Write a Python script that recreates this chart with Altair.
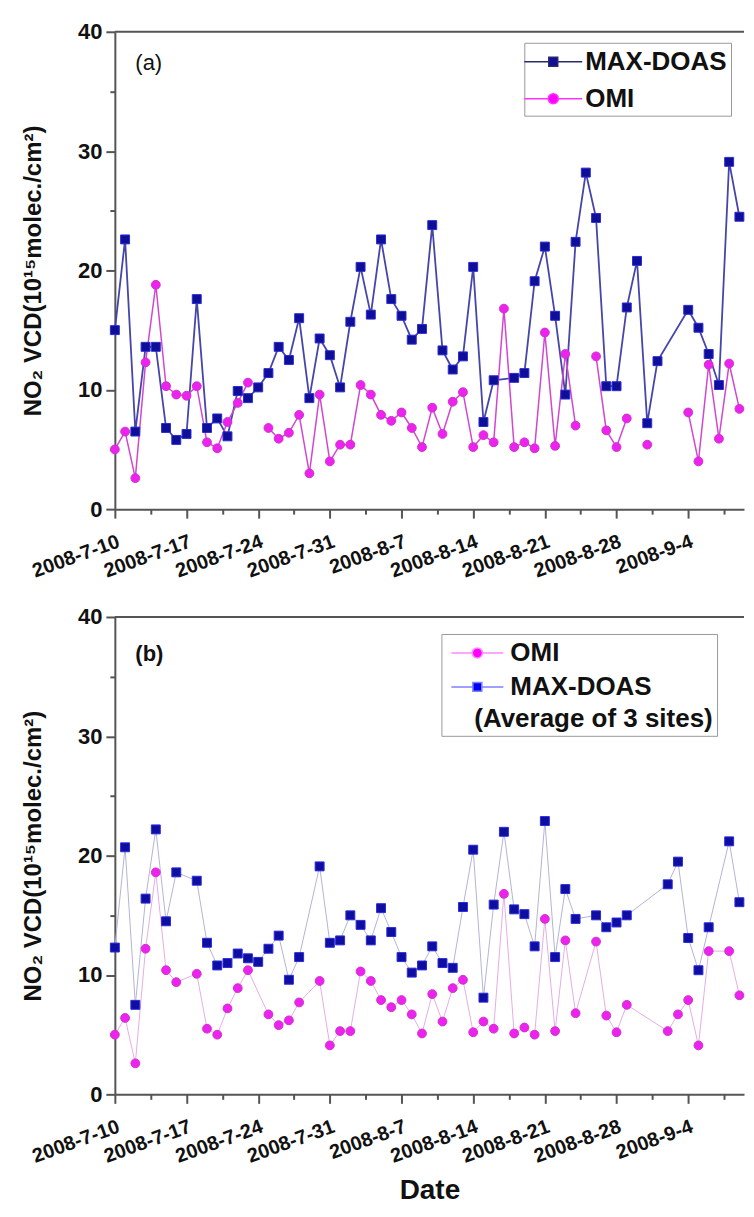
import json
import altair as alt
import pandas as pd

# ---------------- data ----------------
# Panel (a): MAX-DOAS
A_MAX_DATES = ["7-10","7-11","7-12","7-13","7-14","7-15","7-16","7-17","7-18","7-19","7-20","7-21",
               "7-22","7-23","7-24","7-25","7-26","7-27","7-28","7-29","7-30","7-31",
               "8-1","8-2","8-3","8-4","8-5","8-6","8-7","8-8","8-9","8-10","8-11","8-12","8-13",
               "8-14","8-15","8-16","8-18","8-19","8-20","8-21","8-22","8-23","8-24","8-25","8-26",
               "8-27","8-28","8-29","8-30","8-31","9-1","9-4","9-5","9-6","9-7","9-8","9-9"]
A_MAX_VALUES = [15.0, 22.6, 6.5, 13.6, 13.6, 6.8, 5.8, 6.3, 17.6, 6.8, 7.6, 6.1,
                9.9, 9.3, 10.2, 11.4, 13.6, 12.5, 16.0, 9.3, 14.3, 12.9,
                10.2, 15.7, 20.3, 16.3, 22.6, 17.6, 16.2, 14.2, 15.1, 23.8, 13.3, 11.7, 12.8,
                20.3, 7.3, 10.8, 11.0, 11.4, 19.1, 22.0, 16.2, 9.6, 22.4, 28.2, 24.4,
                10.3, 10.3, 16.9, 20.8, 7.2, 12.4, 16.7, 15.2, 13.0, 10.4, 29.1, 24.5]
# Panel (a): OMI
A_OMI_DATES = ["7-10","7-11","7-12","7-13","7-14","7-15","7-16","7-17","7-18","7-19","7-20","7-21",
               "7-22","7-23","7-25","7-26","7-27","7-28","7-29","7-30","7-31",
               "8-1","8-2","8-3","8-4","8-5","8-6","8-7","8-8","8-9","8-10","8-11","8-12","8-13",
               "8-14","8-15","8-16","8-17","8-18","8-19","8-20","8-21","8-22","8-23","8-24",
               "8-26","8-27","8-28","8-29","8-31","9-4","9-5","9-6","9-7","9-8","9-9"]
A_OMI_VALUES = [5.0, 6.5, 2.6, 12.3, 18.8, 10.3, 9.6, 9.5, 10.3, 5.6, 5.1, 7.3,
                8.9, 10.6, 6.8, 5.9, 6.4, 7.9, 3.0, 9.6, 4.0,
                5.4, 5.4, 10.4, 9.6, 7.9, 7.4, 8.1, 6.8, 5.2, 8.5, 6.3, 9.0, 9.8,
                5.2, 6.2, 5.6, 16.8, 5.2, 5.6, 5.1, 14.8, 5.3, 13.0, 7.0,
                12.8, 6.6, 5.2, 7.6, 5.4, 8.1, 4.0, 12.1, 5.9, 12.2, 8.4]
# Panel (b): MAX-DOAS (average of 3 sites)
B_MAX_DATES = ["7-10","7-11","7-12","7-13","7-14","7-15","7-16",
               "7-18","7-19","7-20","7-21","7-22","7-23","7-24","7-25","7-26","7-27","7-28",
               "7-30","7-31","8-1","8-2","8-3","8-4","8-5","8-6","8-7","8-8","8-9","8-10",
               "8-11","8-12","8-13","8-14","8-15","8-16","8-17","8-18","8-19","8-20","8-21",
               "8-22","8-23","8-24","8-26","8-27","8-28","8-29",
               "9-2","9-3","9-4","9-5","9-6","9-8","9-9"]
B_MAX_VALUES = [12.3, 20.7, 7.5, 16.4, 22.2, 14.5, 18.6,
                17.9, 12.7, 10.8, 11.0, 11.8, 11.4, 11.1, 12.2, 13.3, 9.6, 11.5,
                19.1, 12.7, 12.9, 15.0, 14.2, 12.9, 15.6, 13.6, 11.5, 10.2,
                10.8, 12.4, 11.0, 10.6, 15.7, 20.5, 8.1, 15.9, 22.0, 15.5, 15.1,
                12.4, 22.9, 11.5, 17.2, 14.7, 15.0, 14.0, 14.4, 15.0,
                17.6, 19.5, 13.1, 10.4, 14.0, 21.2, 16.1]
# Panel (b): OMI
B_OMI_DATES = ["7-10","7-11","7-12","7-13","7-14","7-15","7-16",
               "7-18","7-19","7-20","7-21","7-22","7-23","7-25","7-26","7-27","7-28",
               "7-30","7-31","8-1","8-2","8-3","8-4","8-5","8-6","8-7","8-8","8-9","8-10",
               "8-11","8-12","8-13","8-14","8-15","8-16","8-17","8-18","8-19","8-20","8-21",
               "8-22","8-23","8-24","8-26","8-27","8-28","8-29",
               "9-2","9-3","9-4","9-5","9-6","9-8","9-9"]
B_OMI_VALUES = [5.0, 6.4, 2.6, 12.2, 18.6, 10.4, 9.4,
                10.1, 5.5, 5.0, 7.2, 8.9, 10.4, 6.7, 5.8, 6.2, 7.7,
                9.5, 4.1, 5.3, 5.3, 10.3, 9.5, 7.9, 7.3, 7.9, 6.7, 5.1,
                8.4, 6.1, 8.9, 9.6, 5.2, 6.1, 5.5, 16.8, 5.1, 5.6, 5.0,
                14.7, 5.3, 12.9, 6.8, 12.8, 6.6, 5.2, 7.5,
                5.3, 6.7, 7.9, 4.1, 12.0, 12.0, 8.3]

X_TICK_LABELS = ["2008-7-10", "2008-7-17", "2008-7-24", "2008-7-31", "2008-8-7",
                 "2008-8-14", "2008-8-21", "2008-8-28", "2008-9-4"]
Y_TICKS = [0, 5, 10, 15, 20, 25, 30, 35, 40]
X_TICKS = [0, 3.5, 7, 10.5, 14, 17.5, 21, 24.5, 28, 31.5, 35, 38.5, 42, 45.5, 49, 52.5, 56, 59.5]
X_DOMAIN = [0, 61.45]
Y_DOMAIN = [0, 40]

START = pd.Timestamp("2008-07-10")
FONT = "Liberation Sans"
AX = "#555555"
W, H = 630, 478


def frame(dates, values, break_gaps):
    day = [(pd.to_datetime("2008-" + d, format="%Y-%m-%d") - START).days for d in dates]
    df = pd.DataFrame({"day": day, "v": values})
    if break_gaps:
        df["seg"] = (df["day"].diff().fillna(1) > 1).cumsum()
    else:
        df["seg"] = 0
    return df


def encodings(x_title):
    x_axis = alt.Axis(
        values=X_TICKS, title=x_title,
        labelExpr="datum.value % 7 == 0 ? " + json.dumps(X_TICK_LABELS) + "[datum.value / 7] : ''",
        tickSize={"condition": {"test": "datum.value % 7 != 0", "value": 5}, "value": 9},
        labelAngle=-20, labelAlign="right", labelBaseline="top", labelPadding=13,
        labelFontSize=20, labelOverlap=False, labelFlush=False, grid=False,
        titleFontSize=28, titlePadding=10,
    )
    y_axis = alt.Axis(
        values=Y_TICKS, title="NO\u2082 VCD(10\u00b9\u2075molec./cm\u00b2)",
        labelExpr="datum.value % 10 == 0 ? datum.label : ''",
        tickSize={"condition": {"test": "datum.value % 10 != 0", "value": 5}, "value": 9},
        labelFontSize=22, labelPadding=4, labelOverlap=False, labelFlush=False, grid=False,
        titleFontSize=24, titlePadding=32,
    )
    x = alt.X("day:Q", scale=alt.Scale(domain=X_DOMAIN, nice=False, zero=False), axis=x_axis)
    y = alt.Y("v:Q", scale=alt.Scale(domain=Y_DOMAIN, nice=False), axis=y_axis)
    return x, y


def panel(df_max, df_omi, st, x_title, label_text, label_bold, order, legend):
    x, y = encodings(x_title)
    top = alt.Chart(pd.DataFrame({"v": [Y_DOMAIN[1]]})).mark_rule(color=AX, strokeWidth=2).encode(y=y)
    line_max = alt.Chart(df_max).mark_line(
        color=st["max_line"], strokeWidth=st["max_lw"]).encode(x=x, y=y, detail="seg:N")
    line_omi = alt.Chart(df_omi).mark_line(
        color=st["omi_line"], strokeWidth=st["omi_lw"]).encode(x=x, y=y, detail="seg:N")
    pts_omi = alt.Chart(df_omi).mark_point(
        shape="circle", filled=True, size=78, opacity=1, color=st["omi_fill"],
        stroke=st["omi_edge"], strokeWidth=1).encode(x=x, y=y)
    pts_max = alt.Chart(df_max).mark_point(
        shape="square", filled=True, size=80, opacity=1, color=st["max_fill"],
        stroke=st["max_edge"], strokeWidth=1).encode(x=x, y=y)
    # legend-only layer (points fall outside the y domain and are clipped)
    leg_df = pd.DataFrame({"series": order, "day": [0] * len(order), "v": [-50] * len(order)})
    lg = alt.Legend(**legend)
    leg = alt.Chart(leg_df).mark_point(filled=True, clip=True, opacity=1, strokeWidth=1.5).encode(
        x=x, y=y,
        fill=alt.Fill("series:N", scale=alt.Scale(domain=order, range=st["leg_fill"]), legend=lg),
        stroke=alt.Stroke("series:N", scale=alt.Scale(domain=order, range=st["leg_stroke"]), legend=lg),
        shape=alt.Shape("series:N", scale=alt.Scale(domain=order, range=st["leg_shape"]), legend=lg),
    )
    lab = alt.Chart(pd.DataFrame({"day": [2.0], "v": [st["label_y"]], "t": [label_text]})).mark_text(
        align="left", baseline="middle", font=FONT, fontSize=22,
        fontWeight="bold" if label_bold else "normal", color="#111111").encode(x=x, y=y, text="t:N")
    layers = [top, line_max, line_omi] if st["max_first"] else [top, line_omi, line_max]
    layers += [pts_omi, pts_max] if st["max_first"] else [pts_max, pts_omi]
    return alt.layer(*layers, leg, lab).properties(width=W, height=H)


def sym(kind, half):
    if kind == "square":
        s = 0.32
        return f"M-{half},0H-{s}M{s},0H{half}M-{s},-{s}H{s}V{s}H-{s}Z"
    r = 0.36
    return f"M-{half},0H-{r}M{r},0H{half}M-{r},0A{r},{r},0,1,0,{r},0A{r},{r},0,1,0,-{r},0Z"


style_a = dict(max_line="#4646aa", max_lw=1.8, omi_line="#d048d0", omi_lw=1.5,
               max_fill="#0e0e96", max_edge="#2a2ad8", omi_fill="#ee22ee", omi_edge="#cc33cc",
               leg_fill=["#0e0e96", "#ff00ff"], leg_stroke=["#2a2a6a", "#ff33ff"],
               leg_shape=[sym("square", 2.07), sym("circle", 2.07)], label_y=37.4, max_first=True)
style_b = dict(max_line="#b4b4d6", max_lw=1.0, omi_line="#e4aee4", omi_lw=1.0,
               max_fill="#0e0ea0", max_edge="#2a2ae0", omi_fill="#ee22ee", omi_edge="#cc33cc",
               leg_fill=["#ff00ff", "#0000f0"], leg_stroke=["#ff88ff", "#8080ff"],
               leg_shape=[sym("circle", 1.86), sym("square", 1.86)], label_y=36.9, max_first=False)

common_legend = dict(orient="none", labelFont=FONT, labelFontSize=26, labelFontWeight="bold",
                     labelColor="#111111", symbolSize=784, symbolStrokeWidth=1.5,
                     strokeColor="#999999", fillColor="white", cornerRadius=0)
legend_a = dict(common_legend, title=None, legendX=410, legendY=11, padding=4,
                symbolOffset=10, labelOffset=17, rowPadding=9)
legend_b = dict(common_legend,
                title="\u200b\u00a0\u00a0\u00a0\u00a0(Average of 3 sites)\u00a0",
                titleOrient="bottom", titleAnchor="start", titleFont=FONT, titleFontSize=26,
                titleFontWeight="bold", titleColor="#111111", titlePadding=6, titleLimit=400,
                legendX=327, legendY=17, padding=4, symbolOffset=17, labelOffset=18, rowPadding=6)

df_a_max = frame(A_MAX_DATES, A_MAX_VALUES, False)
df_a_omi = frame(A_OMI_DATES, A_OMI_VALUES, True)
df_b_max = frame(B_MAX_DATES, B_MAX_VALUES, False)
df_b_omi = frame(B_OMI_DATES, B_OMI_VALUES, False)

pa = panel(df_a_max, df_a_omi, style_a, None, "(a)", False, ["MAX-DOAS", "OMI"], legend_a)
pb = panel(df_b_max, df_b_omi, style_b, "Date", "(b)", True, ["OMI", "MAX-DOAS"], legend_b)

chart = alt.vconcat(pa, pb, spacing=108, bounds="flush").resolve_scale(
    fill="independent", stroke="independent", shape="independent"
).resolve_legend(
    fill="independent", stroke="independent", shape="independent"
).properties(
    padding={"left": 13, "top": 12, "right": 0, "bottom": 0},
    background="white",
).configure_view(stroke=None).configure_axis(
    domainColor=AX, domainWidth=2, tickColor=AX, tickWidth=2,
    labelFont=FONT, labelFontWeight="bold", labelColor="#111111",
    titleFont=FONT, titleFontWeight="bold", titleColor="#111111",
)

chart.save("out.html", embed_options={"renderer": "svg", "actions": False})
